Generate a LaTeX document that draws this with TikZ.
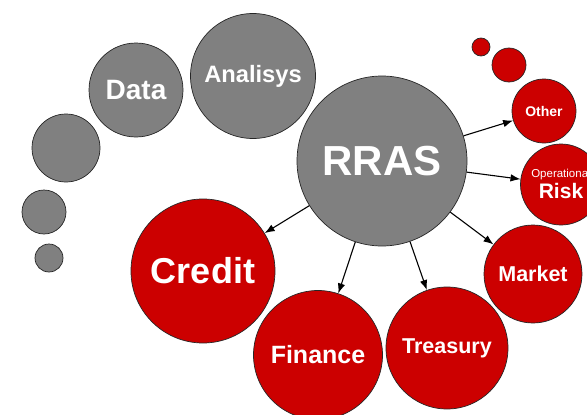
\documentclass[tikz,border=0pt]{standalone}
\usepackage{fontspec}
\setmainfont{Liberation Sans}
\usetikzlibrary{arrows.meta}
\newcommand{\fsz}[1]{\fontsize{#1}{#1}\selectfont\bfseries}
\definecolor{rred}{RGB}{204,0,0}
\definecolor{rgray}{RGB}{128,128,128}
\tikzset{
  bub/.style={circle, draw=black!85, line width=0.7pt, inner sep=0pt, text=white, align=center},
  gb/.style={bub, fill=rgray},
  rb/.style={bub, fill=rred},
  lbl/.style={text=white, inner sep=0pt, anchor=base},
  arr/.style={-{Latex[length=10pt,width=7.5pt]}, line width=1.1pt, black},
}
\begin{document}
\begin{tikzpicture}[x=1pt,y=-1pt]
\useasboundingbox (0,0) rectangle (587,415);
% gray trail
\node[gb, minimum size=28pt] (g1) at (49,258) {};
\node[gb, minimum size=44pt] (g2) at (44,212) {};
\node[gb, minimum size=68pt] (g3) at (66,148) {};
\node[gb, minimum size=94pt, font=\fsz{28}] (data) at (136,90) {Data};
\node[gb, minimum size=125pt, font=\fsz{23.7}] (anal) at (253,76) {Analisys};
% center
\node[gb, minimum size=170pt, font=\fsz{42}] (rras) at (382,161) {RRAS};
% red trail
\node[rb, minimum size=18pt] (r1) at (481,47) {};
\node[rb, minimum size=34pt] (r2) at (509,65) {};
\node[rb, minimum size=64pt, font=\fsz{14}] (other) at (544,111) {Other};
\node[rb, minimum size=81pt] (oprisk) at (561,184.5) {};
\node[lbl, font=\fontsize{11.5}{12}\selectfont] (opt1) at (561,177) {Operational};
\node[lbl, font=\fsz{21}] (opt2) at (561,198) {Risk};
\node[rb, minimum size=98pt, font=\fsz{21.5}] (market) at (533,274) {Market};
\node[rb, minimum size=122pt, font=\fsz{21.5}] (treas) at (447,348) {Treasury};
\node[rb, minimum size=129pt, font=\fsz{25}] (fin) at (318,355) {Finance};
\node[rb, minimum size=144pt, font=\fsz{36}] (credit) at (203,271) {Credit};
% arrows
\draw[arr] (rras) -- (credit);
\draw[arr] (rras) -- (fin);
\draw[arr] (rras) -- (treas);
\draw[arr] (rras) -- (market);
\draw[arr] (rras) -- (oprisk);
\draw[arr] (rras) -- (other);
\end{tikzpicture}
\end{document}
